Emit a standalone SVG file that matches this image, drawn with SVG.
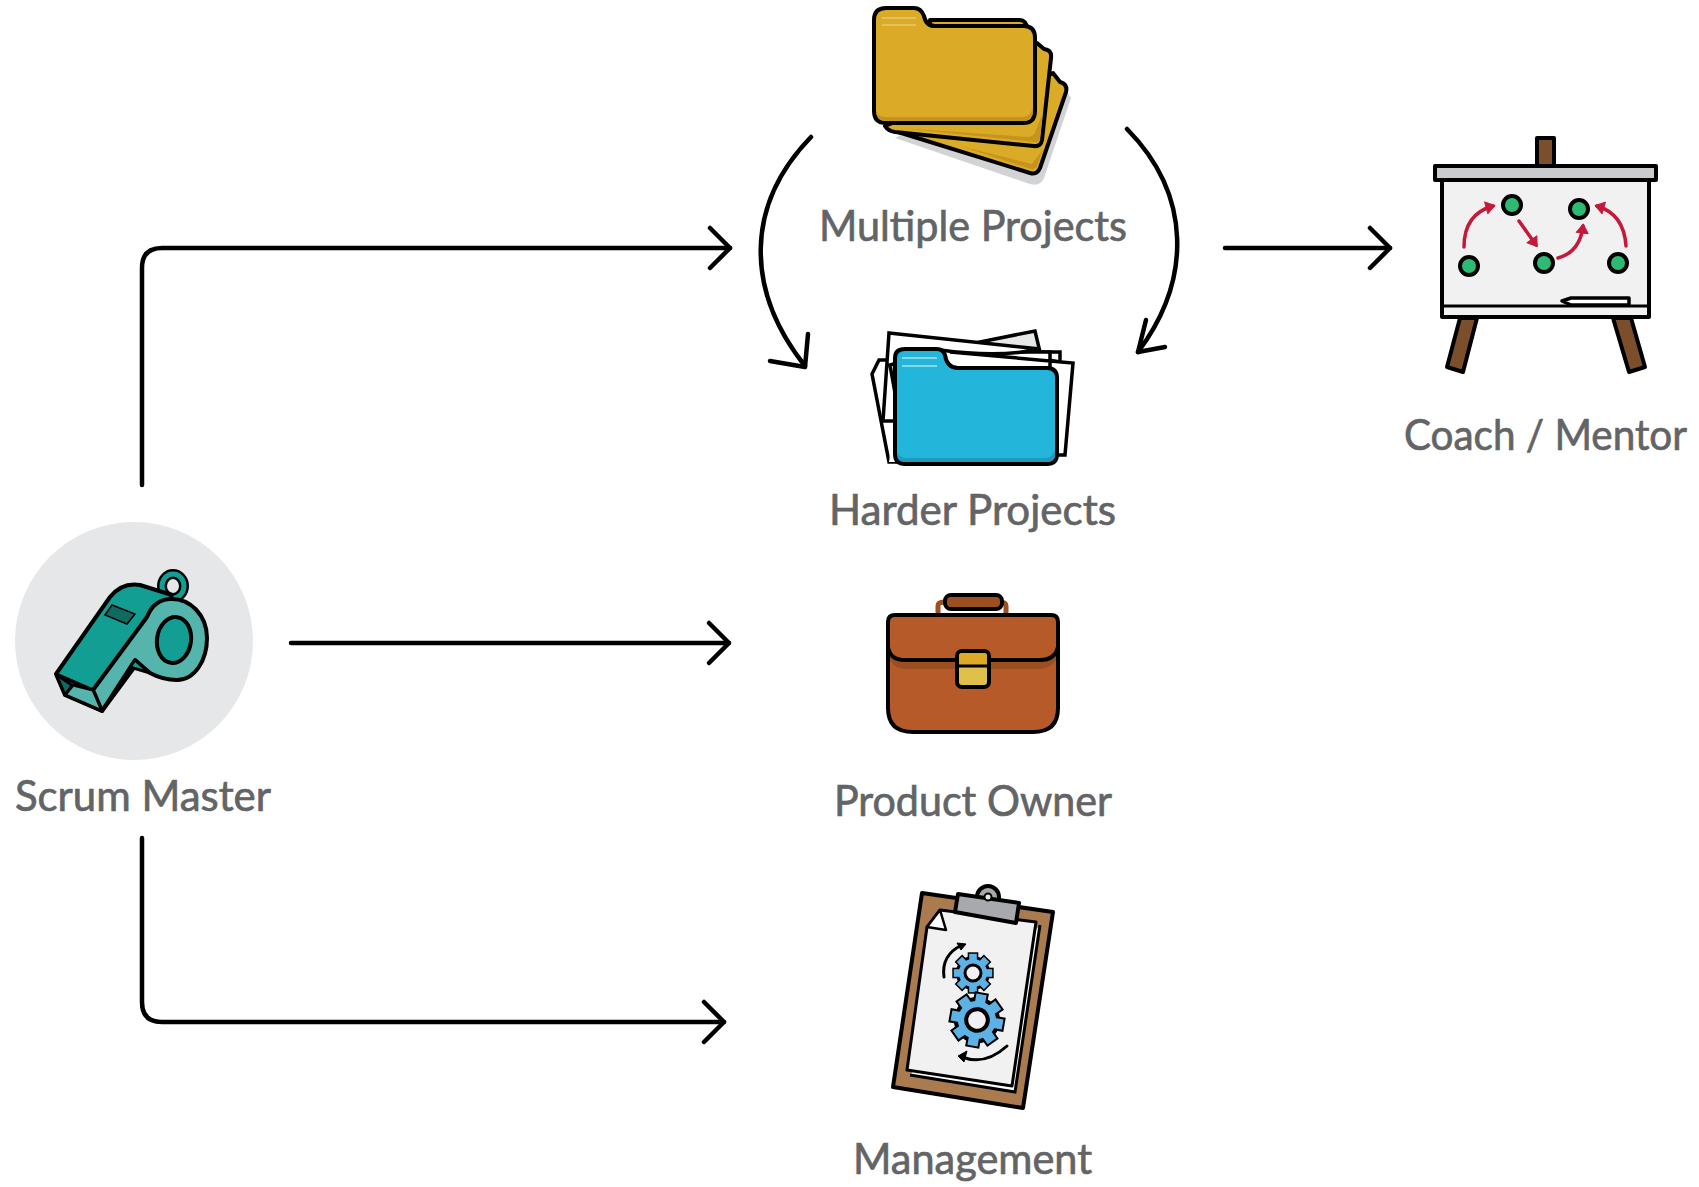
<svg xmlns="http://www.w3.org/2000/svg" xmlns:xlink="http://www.w3.org/1999/xlink" width="1699" height="1187" viewBox="0 0 1699 1187">
<style>
.lbl{font-family:"Lato","Noto Sans",sans-serif;font-size:43px;fill:#636466;stroke:#636466;stroke-width:.7;text-anchor:start}
.ol{stroke:#000;stroke-width:4;stroke-linejoin:round;stroke-linecap:round}
.conn{fill:none;stroke:#000;stroke-width:4.5;stroke-linecap:round;stroke-linejoin:round}
.red{fill:none;stroke:#c4193a;stroke-width:3.5;stroke-linecap:round;stroke-linejoin:round}
.yel{fill:#dbab27}
.shade{fill:#c4941f}
.dot{fill:#2dba73;stroke:#000;stroke-width:4}
.paper{fill:#fff;stroke:#000;stroke-width:3.5;stroke-linejoin:miter}
</style>
<defs>
<marker id="chev" markerUnits="userSpaceOnUse" markerWidth="32" markerHeight="52" refX="25" refY="26" orient="auto" overflow="visible">
<path d="M5 6 L25 26 L5 46" fill="none" stroke="#000" stroke-width="4.5" stroke-linecap="round" stroke-linejoin="round"/>
</marker>
<marker id="redh" markerUnits="userSpaceOnUse" markerWidth="12" markerHeight="12" refX="7" refY="6" orient="auto" overflow="visible">
<path d="M0 0 L9 6 L0 12 Z" fill="#c4193a" stroke="#c4193a" stroke-linejoin="round"/>
</marker>
<g id="gear">
<g fill="#000" stroke="#000" stroke-width="1.5">
<rect x="-1.9" y="-9.6" width="3.8" height="19.2"/>
<rect x="-1.9" y="-9.6" width="3.8" height="19.2" transform="rotate(45)"/>
<rect x="-1.9" y="-9.6" width="3.8" height="19.2" transform="rotate(90)"/>
<rect x="-1.9" y="-9.6" width="3.8" height="19.2" transform="rotate(135)"/>
</g>
<circle r="7.8" fill="#5cb2e5" stroke="#000" stroke-width="1.5"/>
<g fill="#5cb2e5">
<rect x="-1.9" y="-9.6" width="3.8" height="19.2"/>
<rect x="-1.9" y="-9.6" width="3.8" height="19.2" transform="rotate(45)"/>
<rect x="-1.9" y="-9.6" width="3.8" height="19.2" transform="rotate(90)"/>
<rect x="-1.9" y="-9.6" width="3.8" height="19.2" transform="rotate(135)"/>
</g>
<circle r="4" fill="#f1f1f2" stroke="#000" stroke-width="1.5"/>
</g>
</defs>
<rect width="1699" height="1187" fill="#fff"/>

<g id="connectors" class="conn">
<path d="M142 485 V268 Q142 248 162 248 H730" marker-end="url(#chev)"/>
<path d="M291 643 H729" marker-end="url(#chev)"/>
<path d="M142 838 V1002 Q142 1022 162 1022 H724" marker-end="url(#chev)"/>
<path d="M1225 248 H1390" marker-end="url(#chev)"/>
<path d="M811 137 C745 205 745 290 805 366"/>
<path d="M770 361 L805 367 L808 334"/>
<path d="M1127 129 C1192 195 1192 280 1138 352"/>
<path d="M1165 347 L1138 352 L1146 320"/>
</g>

<g id="multiple-projects">
<path d="M895 138 L1030 184 Q1040 187 1044 178 L1071 98 L1066 90 L1030 170 L910 130 Z" fill="#d1d3d4"/>
<path class="yel ol" d="M898 132 L1030 173 Q1037 175 1040 168 L1066 92 Q1068 84 1060 82 L1053 73 L1000 100 Z"/>
<path class="shade" d="M960 146 L1031 169 Q1035 170 1037 166 L1043 149 Q1038 156 1032 164 Z"/>
<path class="yel ol" d="M885 126 Q888 131 895 132 L1034 146 Q1041 147 1042 140 L1051 58 Q1052 50 1044 49 L1037 43 L1000 80 Z"/>
<path class="shade" d="M900 128 L1034 142 Q1039 143 1040 138 L1043 112 L1036 130 Q1034 137 1028 137 Z"/>
<path class="yel ol" d="M930 26 V20 H1020 Q1026 20 1028 30 Z"/>
<path class="yel ol" d="M874 20 Q874 8 886 8 H914 Q921 8 924 16 Q926 26 935 26 H1024 Q1035 26 1035 38 V111 Q1035 123 1023 123 H886 Q874 123 874 111 Z"/>
<path class="shade" d="M876 113 Q880 117 886 117 H1022 Q1030 117 1033 108 V111 Q1033 121 1023 121 H886 Q878 121 876 113 Z"/>
<path d="M882 18 H916 M882 25 H916" stroke="#e6c96f" stroke-width="1.5" fill="none"/>
<text class="lbl" x="819" y="241" textLength="308" lengthAdjust="spacingAndGlyphs">Multiple Projects</text>
</g>

<g id="harder-projects">
<path class="paper" d="M980 342 L1035 331 L1040 352 L990 352 Z" style="fill:#e6e7e8"/>
<path class="paper" d="M1000 352 L1060 352 L1060 362 Z"/>
<path class="paper" d="M879 360 L872 374 L889 462 L900 462 L900 360 Z"/>
<path class="paper" d="M950 352 L1073 363 L1065 455 L1050 455 L1050 352 Z"/>
<path class="paper" d="M889 333 L1040 349 Q1000 358 940 350 L890 365 L900 421 L883 421 Z"/>
<path d="M895 420 L889 462 L900 462 Z" fill="#fff"/>
<path d="M895 358 Q895 349 905 349 H937 Q943 349 945 355 Q947 368 958 368 H1047 Q1057 368 1057 378 V454 Q1057 464 1047 464 H905 Q895 464 895 454 Z" fill="#23b5da" stroke="#000" stroke-width="4" stroke-linejoin="round"/>
<path d="M897 452 Q900 458 906 458 H1045 Q1052 458 1055 450 V454 Q1055 462 1047 462 H905 Q898 462 897 452 Z" fill="#1c9dbf"/>
<path d="M902 358 H937 M902 366 H937" stroke="#a9e1ef" stroke-width="1.5" fill="none"/>
<text class="lbl" x="829" y="525" textLength="287" lengthAdjust="spacingAndGlyphs">Harder Projects</text>
</g>

<g id="coach-mentor">
<rect class="ol" x="1537" y="138" width="17" height="28" fill="#7b4f2c"/>
<path class="ol" d="M1460 318 H1477 L1463 372 L1447 367 Z" fill="#7b4f2c"/>
<path class="ol" d="M1613 318 H1631 L1645 367 L1629 372 Z" fill="#7b4f2c"/>
<rect class="ol" x="1442" y="180" width="207" height="137" fill="#f1f1f2"/>
<rect class="ol" x="1435" y="166" width="221" height="14" fill="#c9cbcc"/>
<path d="M1442 306 H1649" stroke="#000" stroke-width="3" fill="none"/>
<path d="M1562 301 L1571 298 H1629 V305 H1571 Z" fill="#fff" stroke="#000" stroke-width="3.5" stroke-linejoin="round"/>
<circle class="dot" cx="1469" cy="266" r="9"/>
<circle class="dot" cx="1512" cy="205" r="9"/>
<circle class="dot" cx="1579" cy="209" r="9"/>
<circle class="dot" cx="1544" cy="263" r="9"/>
<circle class="dot" cx="1618" cy="263" r="9"/>
<path class="red" d="M1464 247 Q1464 214 1493 206" marker-end="url(#redh)"/>
<path class="red" d="M1519 221 L1536 245" marker-end="url(#redh)"/>
<path class="red" d="M1558 258 Q1580 252 1583 226" marker-end="url(#redh)"/>
<path class="red" d="M1626 246 Q1624 214 1597 206" marker-end="url(#redh)"/>
<text class="lbl" x="1404" y="450" textLength="283" lengthAdjust="spacingAndGlyphs">Coach / Mentor</text>
</g>

<g id="scrum-master">
<circle cx="134" cy="641" r="119" fill="#e6e7e8"/>
<ellipse cx="173" cy="586" rx="11" ry="12" fill="none" stroke="#000" stroke-width="10"/>
<ellipse cx="173" cy="586" rx="11" ry="12" fill="none" stroke="#129e92" stroke-width="5"/>
<path class="ol" d="M56 674 L110 597 Q122 582 140 585 L172 595 L147 650 L102 711 L65 695 Z" fill="#129e92"/>
<path class="ol" d="M135 660 L150 673 Q163 680 177 680 C195 680 207 660 207 638 C207 615 190 598 170 599 C155 600 150 610 147 617 L93 690 L102 711 Z" fill="#55b4ac"/>
<path d="M135 660 L150 673 L130 667 Z" fill="#129e92" stroke="#000" stroke-width="3" stroke-linejoin="round"/>
<ellipse class="ol" cx="174" cy="640" rx="17" ry="23" transform="rotate(8 174 640)" fill="#129e92"/>
<path d="M112 605 L135 614 L127 624 L105 615 Z" fill="#0f6b62" stroke="#000" stroke-width="1.5"/>
<path d="M56 674 L65 695 L73 685 Z" fill="#0f6b62" stroke="#000" stroke-width="3" stroke-linejoin="round"/>
<path d="M56 674 L93 690 L73 686 Z" fill="#0f6b62" stroke="#000" stroke-width="3" stroke-linejoin="round"/>
<path d="M65 695 L102 711 L93 690 L73 685 Z" fill="#55b4ac" stroke="#000" stroke-width="3" stroke-linejoin="round"/>
<text class="lbl" x="15" y="811" textLength="256" lengthAdjust="spacingAndGlyphs">Scrum Master</text>
</g>

<g id="product-owner">
<path d="M938 615 V606 Q938 602 944 602 M1006 615 V606 Q1006 602 1000 602" fill="none" stroke="#9c4f20" stroke-width="5"/>
<rect class="ol" x="945" y="595" width="57" height="14" rx="6" fill="#9c4f20"/>
<path d="M888 622 Q888 615 895 615 H1051 Q1058 615 1058 622 V708 Q1058 732 1033 732 H913 Q888 732 888 708 Z" fill="#b55a28" stroke="#000" stroke-width="4"/>
<path d="M890 648 Q892 660 905 660 H1040 Q1053 660 1056 648 V660 Q1050 669 1038 669 H907 Q895 669 890 660 Z" fill="#9a4e22"/>
<path d="M888 647 Q890 660 905 660 H1040 Q1055 660 1058 647" fill="none" stroke="#000" stroke-width="4"/>
<rect class="ol" x="957" y="651" width="32" height="36" rx="5" fill="#dfc04a"/>
<path d="M959 666 V656 Q959 653 962 653 H984 Q987 653 987 656 V666 Z" fill="#dcaa25"/>
<path d="M957 666 H989" stroke="#000" stroke-width="3"/>
<text class="lbl" x="834" y="816" textLength="278" lengthAdjust="spacingAndGlyphs">Product Owner</text>
</g>

<g id="management">
<path class="ol" d="M922 893 L1053 912 L1023 1108 L893 1087 Z" fill="#aa7b4e"/>
<path d="M1040 925 L1015 1092 L910 1075" fill="#fff" stroke="#000" stroke-width="3"/>
<path d="M940 910 L1036 922 L1012 1086 L907 1070 L927 927 Z" fill="#f1f1f2" stroke="#000" stroke-width="3" stroke-linejoin="round"/>
<path d="M940 910 L927 927 L946 930 Z" fill="#fff" stroke="#000" stroke-width="2.5" stroke-linejoin="round"/>
<circle class="ol" cx="988" cy="897" r="11" fill="#a7a9ac"/>
<path class="ol" d="M958 894 L1019 903 L1016 923 L955 912 Z" fill="#a7a9ac"/>
<circle cx="988" cy="897" r="3.5" fill="#e6e7e8" stroke="#000" stroke-width="2"/>
<use xlink:href="#gear" href="#gear" transform="translate(973 973) scale(2)"/>
<use xlink:href="#gear" href="#gear" transform="translate(977 1020) scale(2.7) rotate(10)"/>
<path d="M944 977 Q941 955 962 945" fill="none" stroke="#000" stroke-width="3" stroke-linecap="round"/>
<path d="M957 943 L966 944 L961 950 Z" fill="#000" stroke="#000"/>
<path d="M1007 1046 Q985 1066 962 1057" fill="none" stroke="#000" stroke-width="3" stroke-linecap="round"/>
<path d="M967 1051 L958 1056 L964 1062 Z" fill="#000" stroke="#000"/>
<text class="lbl" x="853" y="1174" textLength="239" lengthAdjust="spacingAndGlyphs">Management</text>
</g>
</svg>
